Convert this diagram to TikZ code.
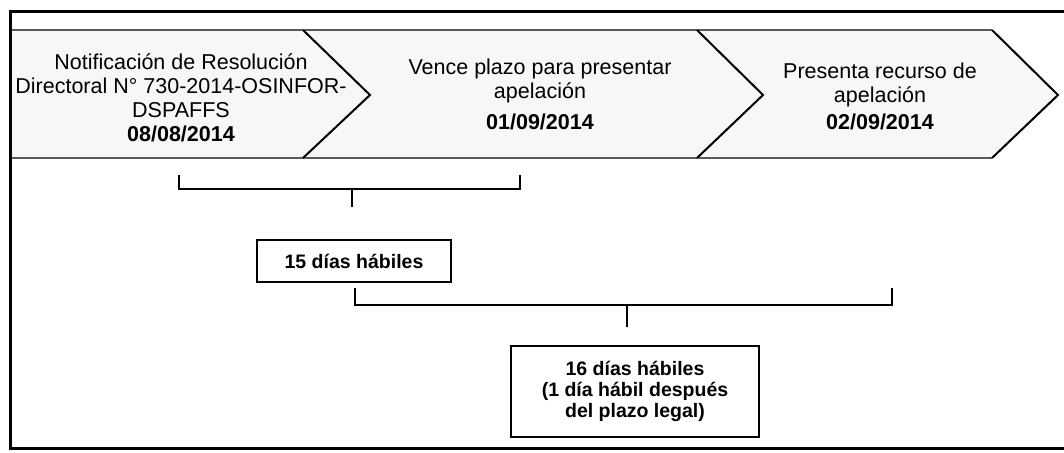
\documentclass[tikz,border=0pt]{standalone}
\usepackage{fontspec}
\setmainfont{Liberation Sans}

\begin{document}
\begin{tikzpicture}[x=1pt,y=-1pt,
        bandedge/.style={draw=black!65,line width=1.2pt},
        tipline/.style={line width=2pt,line join=miter},
        eventtext/.style={align=center,inner sep=0pt,font=\fontsize{21.5}{24}\selectfont},
        daybox/.style={draw,line width=2pt,align=center,inner sep=0pt,font=\fontsize{19.5}{21}\selectfont\bfseries},
        bracketline/.style={line width=1.4pt}]
        \useasboundingbox (0,0) rectangle (1064,452);

        % band of chevrons
        \fill [gray!6] (10,30) -- (992,30) -- (1058,95) -- (992,158) -- (10,158) -- cycle;
        \draw [bandedge] (10,30) -- (992,30);
        \draw [bandedge] (10,158) -- (992,158);
        \foreach \s/\t in {303/370,697/763,992/1058} {
            \draw [tipline] (\s,30) -- (\t,95) -- (\s,158);
        }

        \node [eventtext] (notif) at (181,98) {Notificación de Resolución\\Directoral N° 730-2014-OSINFOR-\\DSPAFFS\\\textbf{08/08/2014}};
        \node [eventtext] (vence) at (540,94) {Vence plazo para presentar\\apelación\\[7pt]\textbf{01/09/2014}};
        \node [eventtext] (presenta) at (880,96) {Presenta recurso de\\apelación\\[3pt]\textbf{02/09/2014}};

        % brackets
        \coordinate (b1l) at (179,175);
        \coordinate (b1r) at (520,175);
        \coordinate (b1s) at (352,207);
        \draw [bracketline] (b1l) -- ++(0,14) -| (b1r);
        \draw [bracketline] (b1s) -- (b1s |- 0,189);

        \coordinate (b2l) at (355,288);
        \coordinate (b2r) at (892,288);
        \coordinate (b2s) at (627,327);
        \draw [bracketline] (b2l) -- ++(0,17) -| (b2r);
        \draw [bracketline] (b2s) -- (b2s |- 0,305);

        \node [daybox,minimum width=194pt,minimum height=42pt] (dias15) at (354,261) {15 días hábiles};
        \node [daybox,minimum width=248pt,minimum height=91pt] (dias16) at (635,391.5) {16 días hábiles\\(1 día hábil después\\del plazo legal)};

        % frame
        \draw [line width=3pt] (1070,12) -- (10,12) -- (10,448) -- (1070,448);
    \end{tikzpicture}
\end{document}
